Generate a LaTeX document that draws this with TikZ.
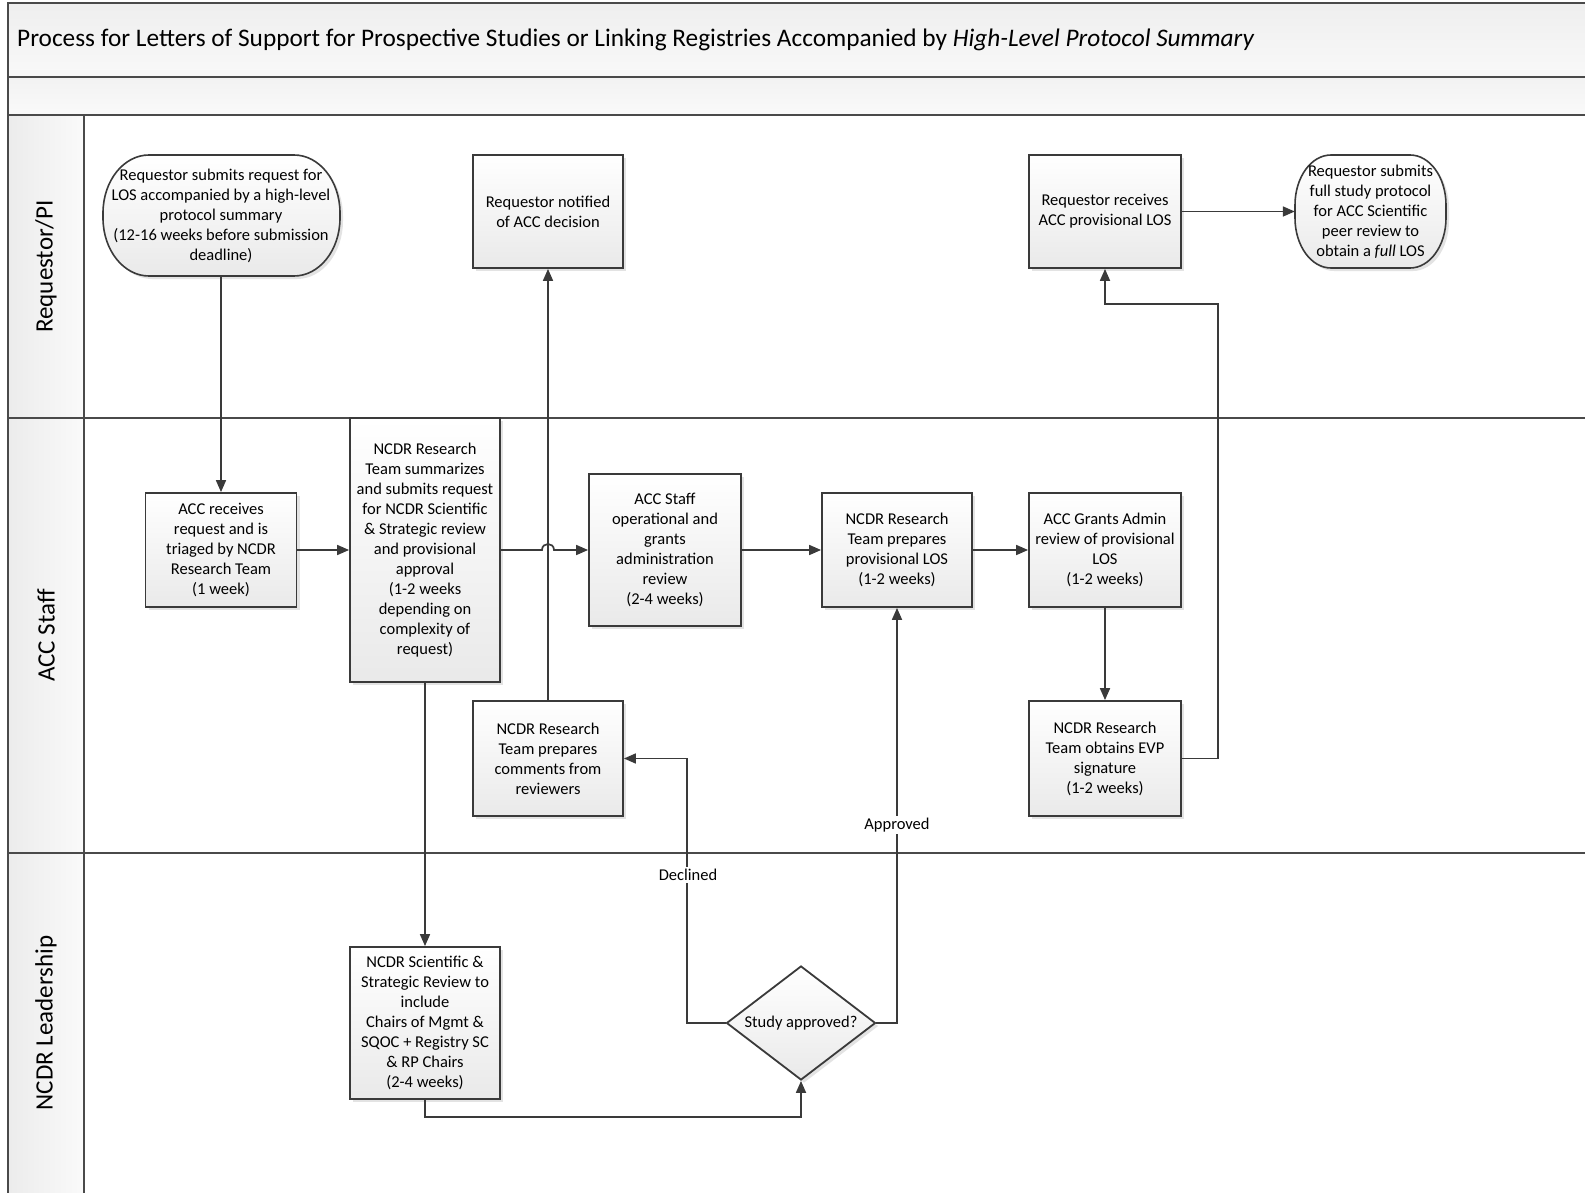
\documentclass[tikz,border=0pt]{standalone}
\usepackage{fontspec}
\setmainfont{Carlito}
\usetikzlibrary{shapes.geometric,shadows,calc,arrows.meta}
\definecolor{ln}{HTML}{3A3A3A}
\definecolor{frm}{HTML}{4A4A4A}
\newcommand\bxfont{\fontsize{16.5}{20}\selectfont}
\newcommand\ttlfont{\fontsize{25.3}{30}\selectfont}
\newcommand\lnfont{\fontsize{25}{30}\selectfont}
% terminator outline with elliptical corners: L T R B rx ry
\newcommand\termpath[6]{%
 \path[termsty] ({#1+#5},#2) -- ({#3-#5},#2)
  .. controls ({#3-#5+0.5523*#5},#2) and (#3,{#2+#6-0.5523*#6}) .. (#3,{#2+#6})
  -- (#3,{#4-#6})
  .. controls (#3,{#4-#6+0.5523*#6}) and ({#3-#5+0.5523*#5},#4) .. ({#3-#5},#4)
  -- ({#1+#5},#4)
  .. controls ({#1+#5-0.5523*#5},#4) and (#1,{#4-#6+0.5523*#6}) .. (#1,{#4-#6})
  -- (#1,{#2+#6})
  .. controls (#1,{#2+#6-0.5523*#6}) and ({#1+#5-0.5523*#5},#2) .. ({#1+#5},#2) -- cycle;}
\begin{document}
\begin{tikzpicture}[x=1pt,y=-1pt,
  frame/.style={draw=frm, line width=1.5pt},
  shd/.style={drop shadow={shadow xshift=3pt,shadow yshift=-3pt,opacity=0.22,fill=gray}},
  box/.style={draw=ln, line width=1.8pt, top color=white, bottom color=gray!17, shd,
     align=center, inner sep=0pt, font=\bxfont, text=black},
  termsty/.style={draw=ln, line width=1.6pt, top color=white, bottom color=gray!17, shd},
  termtext/.style={align=center, inner sep=0pt, font=\bxfont, text=black},
  dia/.style={diamond, aspect=1.3, draw=ln, line width=1.8pt, top color=white, bottom color=gray!17, shd,
     align=center, inner sep=0pt, font=\bxfont, text=black},
  arr/.style={draw=ln, line width=1.7pt, -{Triangle[length=12pt,width=10pt]}},
  lbl/.style={fill=white, inner sep=2pt, font=\bxfont, text=black},
  lane/.style={font=\lnfont, rotate=90, text=black}
]
\useasboundingbox (0,0) rectangle (1585,1193);
\clip (0,0) rectangle (1585,1193);
\fill[white] (0,0) rectangle (1585,1193);
% bands and lanes
\path[frame, top color=gray!13, bottom color=gray!5] (8,3) rectangle (1640,77);
\path[frame, top color=gray!10, bottom color=gray!4] (8,77) rectangle (1640,115);
\path[frame, fill=white] (8,115) rectangle (1640,1240);
\path[frame, left color=gray!15, right color=gray!4] (8,115) rectangle (84,418);
\path[frame, left color=gray!15, right color=gray!4] (8,418) rectangle (84,853);
\path[frame, left color=gray!15, right color=gray!4] (8,853) rectangle (84,1240);
\draw[frame] (84,418) -- (1640,418);
\draw[frame] (84,853) -- (1640,853);
\node[anchor=west, font=\ttlfont, text=black, inner sep=0pt] (title) at (17,40)
  {Process for Letters of Support for Prospective Studies or Linking Registries Accompanied by \textit{High-Level Protocol Summary}};
\node[lane] (l1) at (46,266.5) {Requestor/PI};
\node[lane] (l2) at (46,635.5) {ACC Staff};
\node[lane] (l3) at (46,1023) {NCDR Leadership};
% terminators
\termpath{103}{155}{340}{276}{46}{58}
\node[termtext, minimum width=237pt, minimum height=121pt] (start) at (221,215.5)
  {Requestor submits request for\\LOS accompanied by a high-level\\protocol summary\\(12-16 weeks before submission\\deadline)};
\termpath{1295}{155}{1446}{268}{36}{50}
\node[termtext, minimum width=151pt, minimum height=113pt] (endT) at (1370.5,211.5)
  {Requestor submits\\full study protocol\\for ACC Scientific\\peer review to\\obtain a \textit{full} LOS};
% boxes
\node[box, minimum width=150pt, minimum height=113pt] (notif) at (548,211.5) {Requestor notified\\of ACC decision};
\node[box, minimum width=152pt, minimum height=113pt] (recv) at (1105,211.5) {Requestor receives\\ACC provisional LOS};
\node[box, minimum width=151pt, minimum height=114pt] (accr) at (221,550) {ACC receives\\request and is\\triaged by NCDR\\Research Team\\(1 week)};
\node[box, minimum width=150pt, minimum height=264pt] (sum) at (425,550) {NCDR Research\\Team summarizes\\and submits request\\for NCDR Scientific\\\& Strategic review\\and provisional\\approval\\(1-2 weeks\\depending on\\complexity of\\request)};
\node[box, minimum width=152pt, minimum height=152pt] (ops) at (665,550) {ACC Staff\\operational and\\grants\\administration\\review\\(2-4 weeks)};
\node[box, minimum width=150pt, minimum height=114pt] (prov) at (897,550) {NCDR Research\\Team prepares\\provisional LOS\\(1-2 weeks)};
\node[box, minimum width=152pt, minimum height=114pt] (grants) at (1105,550) {ACC Grants Admin\\review of provisional\\LOS\\(1-2 weeks)};
\node[box, minimum width=150pt, minimum height=115pt] (comm) at (548,758.5) {NCDR Research\\Team prepares\\comments from\\reviewers};
\node[box, minimum width=152pt, minimum height=115pt] (evp) at (1105,758.5) {NCDR Research\\Team obtains EVP\\signature\\(1-2 weeks)};
\node[box, minimum width=150pt, minimum height=152pt] (sci) at (425,1023) {NCDR Scientific \&\\Strategic Review to\\include\\Chairs of Mgmt \&\\SQOC + Registry SC\\\& RP Chairs\\(2-4 weeks)};
\node[dia, minimum width=149pt, minimum height=114pt] (dec) at (801,1023) {Study approved?};
% connectors
\draw[arr] (start.south) -- (accr.north);
\draw[arr] (accr.east) -- (sum.west);
\coordinate (hop) at (comm.north |- sum.east);
\draw[arr] (sum.east) -- ($(hop)+(-6,0)$) .. controls ($(hop)+(-6,-8)$) and ($(hop)+(6,-8)$) .. ($(hop)+(6,0)$) -- (ops.west);
\draw[arr] (comm.north) -- (notif.south);
\draw[arr] (ops.east) -- (prov.west);
\draw[arr] (prov.east) -- (grants.west);
\draw[arr] (grants.south) -- (evp.north);
\draw[arr] (evp.east) -- ++(36,0) |- ($(recv.south)+(0,35)$) -- (recv.south);
\draw[arr] (recv.east) -- (endT.west);
\draw[arr] (sum.south) -- (sci.north);
\draw[arr] (sci.south) -- ++(0,17) -| (dec.south);
\draw[arr] (dec.west) -- ++(-38.5,0) |- (comm.east);
\draw[arr] (dec.east) -| (prov.south);
\node[lbl] (decl) at (688,875) {Declined};
\node[lbl] (appr) at (897,825) {Approved};
\end{tikzpicture}
\end{document}
